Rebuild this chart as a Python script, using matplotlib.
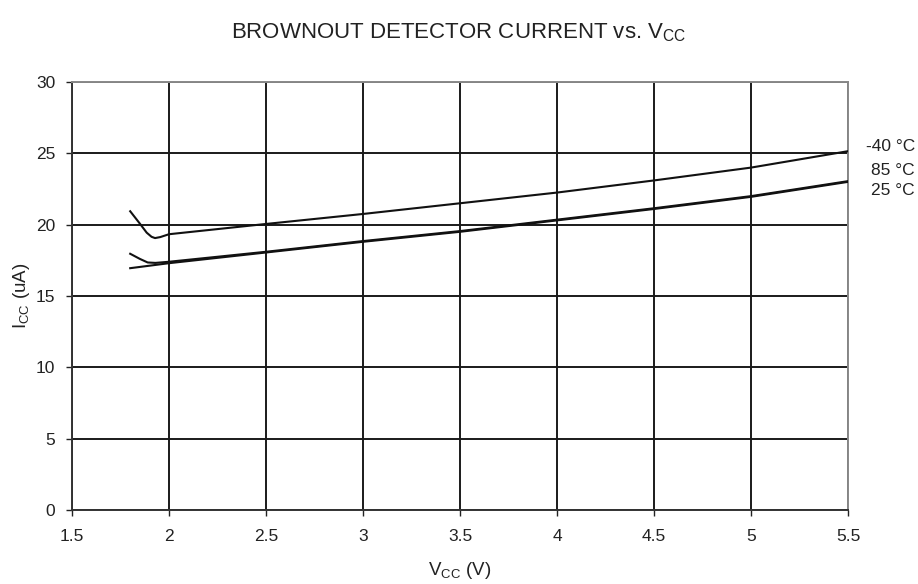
import matplotlib
matplotlib.use("Agg")
import matplotlib.pyplot as plt
import numpy as np

plt.rcParams['font.family'] = ['Liberation Sans', 'DejaVu Sans']

vcc_m40 = [1.8, 1.85, 1.885, 1.91, 1.928, 1.955, 2.0, 2.5, 3.0, 3.5, 4.0, 4.5, 5.0, 5.5]
icc_m40 = [20.94, 20.07, 19.44, 19.15, 19.06, 19.13, 19.33, 20.05, 20.75, 21.5, 22.25, 23.1, 24.0, 25.15]

vcc_85 = [1.8, 1.85, 1.89, 1.93, 2.0, 2.5, 3.0, 3.5, 4.0, 4.5, 5.0, 5.5]
icc_85 = [17.96, 17.6, 17.35, 17.32, 17.4, 18.1, 18.85, 19.55, 20.35, 21.15, 22.0, 23.05]

vcc_25 = [1.8, 2.0, 2.5, 3.0, 3.5, 4.0, 4.5, 5.0, 5.5]
icc_25 = [16.95, 17.3, 18.05, 18.8, 19.5, 20.3, 21.1, 21.95, 23.0]

labels = ["-40 °C", "85 °C", "25 °C"]
label_y = [25.45, 23.8, 22.4]

xticks = [1.5, 2, 2.5, 3, 3.5, 4, 4.5, 5, 5.5]
xticklabels = ["1.5", "2", "2.5", "3", "3.5", "4", "4.5", "5", "5.5"]
yticks = [0, 5, 10, 15, 20, 25, 30]

fig = plt.figure(figsize=(9.18, 5.84), dpi=100)
ax = fig.add_axes([72/918, 74/584, 776/918, 428/584])

for x, y in [(vcc_m40, icc_m40), (vcc_85, icc_85), (vcc_25, icc_25)]:
    ax.plot(x, y, color='#111111', lw=1.5, zorder=3, solid_joinstyle='round')

ax.set_xlim(1.5, 5.5)
ax.set_ylim(0, 30)
ax.set_xticks(xticks)
ax.set_xticklabels(xticklabels)
ax.set_yticks(yticks)
ax.grid(True, color='#1a1a1a', lw=1.4)
ax.tick_params(axis='both', labelsize=12.5, length=4, width=1.0, colors='#222222')
ax.tick_params(axis='x', pad=10)
ax.tick_params(axis='y', pad=8)
for s in ['left', 'bottom']:
    ax.spines[s].set_color('#333333')
    ax.spines[s].set_linewidth(1.4)
for s in ['top', 'right']:
    ax.spines[s].set_color('#888888')
    ax.spines[s].set_linewidth(1.4)

trans = matplotlib.transforms.blended_transform_factory(fig.transFigure, ax.transData)
for lab, yy in zip(labels, label_y):
    ax.text(915/918, yy, lab, fontsize=12.5, color='#222222', ha='right', va='center',
            transform=trans, clip_on=False)

fig.text(0.5, 1 - 33/584, r"BROWNOUT DETECTOR CURRENT vs. V$_{\mathregular{CC}}$",
         ha='center', va='center', fontsize=16, color='#222222')
ax.set_xlabel(r"V$_{\mathregular{CC}}$ (V)", fontsize=13.5, color='#222222', labelpad=11)
ax.set_ylabel(r"I$_{\mathregular{CC}}$ (uA)", fontsize=13.5, color='#222222', labelpad=3)

fig.savefig("out.png", dpi=100)
